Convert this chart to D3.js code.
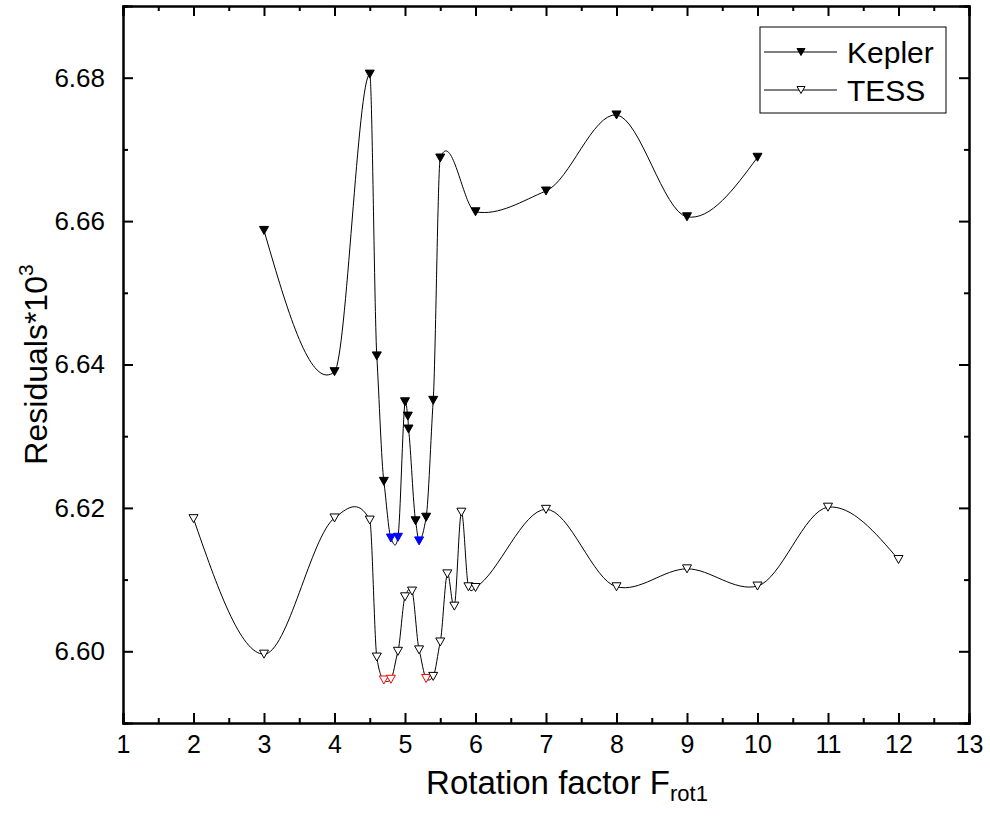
<!DOCTYPE html>
<html>
<head>
<meta charset="utf-8">
<script src="https://cdn.jsdelivr.net/npm/d3@7"></script>
<style>
  body { margin: 0; background: #fff; }
  svg { display: block; font-family: "Liberation Sans", Arial, sans-serif; }
</style>
</head>
<body>
<svg width="990" height="826"></svg>
<script>
var WIDTH = 990;
var HEIGHT = 826;

// Kepler residuals (filled down triangles), blue = best ones
var keplerX = [3, 4, 4.5, 4.6, 4.7, 4.8, 4.9, 5.0, 5.04, 5.05, 5.15, 5.2, 5.3, 5.4, 5.5, 6, 7, 8, 9, 10];
var keplerY = [6.6587, 6.6390, 6.6805, 6.6412, 6.6237, 6.6158, 6.6159, 6.6348, 6.6328, 6.6310,
               6.6182, 6.6154, 6.6187, 6.6350, 6.6688, 6.6613, 6.6642, 6.6748, 6.6606, 6.6689];
var keplerBest = [4.8, 4.9, 5.2];

// TESS residuals (open down triangles), red = best ones
var tessX = [2, 3, 4, 4.5, 4.6, 4.7, 4.8, 4.9, 5.0, 5.1, 5.2, 5.3, 5.4, 5.5, 5.6, 5.7, 5.8, 5.9, 6,
             7, 8, 9, 10, 11, 12];
var tessY = [6.6185, 6.5996, 6.6186, 6.6183, 6.5992, 6.5960, 6.5961, 6.6000, 6.6076, 6.6084,
             6.6002, 6.5962, 6.5965, 6.6013, 6.6108, 6.6063, 6.6194, 6.6090, 6.6089,
             6.6198, 6.6090, 6.6115, 6.6091, 6.6201, 6.6128];
var tessBest = [4.7, 4.8, 5.3];

var xMajor = [1, 2, 3, 4, 5, 6, 7, 8, 9, 10, 11, 12, 13];
var xMinor = [1.5, 2.5, 3.5, 4.5, 5.5, 6.5, 7.5, 8.5, 9.5, 10.5, 11.5, 12.5];
var yMajor = [6.60, 6.62, 6.64, 6.66, 6.68];
var yMinor = [6.59, 6.61, 6.63, 6.65, 6.67, 6.69];

var margin = { left: 123, right: 21, top: 6, bottom: 103 };
var plotW = WIDTH - margin.left - margin.right;
var plotH = HEIGHT - margin.top - margin.bottom;

var svg = d3.select('svg');
svg.append('rect').attr('width', WIDTH).attr('height', HEIGHT).attr('fill', '#fff');

var g = svg.append('g').attr('transform', 'translate(' + margin.left + ',' + margin.top + ')');

var xScale = d3.scaleLinear().domain([1, 13]).range([0, plotW]);
var yScale = d3.scaleLinear().domain([6.59, 6.69]).range([plotH, 0]);

// cubic hermite in x; slope at a point = damped secant of its neighbours
var SLOPE_K = 0.6;
function curveSplineX(context) {
  var xs, ys;
  return {
    areaStart: function() {},
    areaEnd: function() {},
    lineStart: function() { xs = []; ys = []; },
    point: function(x, y) { xs.push(+x); ys.push(+y); },
    lineEnd: function() {
      var n = xs.length;
      if (!n) return;
      context.moveTo(xs[0], ys[0]);
      if (n < 3) {
        for (var j = 1; j < n; j++) context.lineTo(xs[j], ys[j]);
        return;
      }
      var d = new Array(n);
      for (var i = 1; i < n - 1; i++) {
        d[i] = SLOPE_K * (ys[i + 1] - ys[i - 1]) / (xs[i + 1] - xs[i - 1]);
      }
      d[0] = (3 * (ys[1] - ys[0]) / (xs[1] - xs[0]) - d[1]) / 2;
      d[n - 1] = (3 * (ys[n - 1] - ys[n - 2]) / (xs[n - 1] - xs[n - 2]) - d[n - 2]) / 2;
      for (i = 0; i < n - 1; i++) {
        var h = xs[i + 1] - xs[i];
        context.bezierCurveTo(xs[i] + h / 3, ys[i] + d[i] * h / 3,
                              xs[i + 1] - h / 3, ys[i + 1] - d[i + 1] * h / 3,
                              xs[i + 1], ys[i + 1]);
      }
    }
  };
}

var line = d3.line()
  .x(function(d) { return xScale(d[0]); })
  .y(function(d) { return yScale(d[1]); })
  .curve(curveSplineX);

var kepler = keplerX.map(function(x, i) { return [x, keplerY[i]]; });
var tess = tessX.map(function(x, i) { return [x, tessY[i]]; });

// down triangle marker
var TRI = 'M-4.5,-4L4.5,-4L0,4Z';

g.append('path').datum(tess)
  .attr('d', line).attr('fill', 'none').attr('stroke', '#000').attr('stroke-width', 1);
g.append('path').datum(kepler)
  .attr('d', line).attr('fill', 'none').attr('stroke', '#000').attr('stroke-width', 1);

g.selectAll('.tess').data(tess).enter().append('path')
  .attr('class', 'tess')
  .attr('d', TRI)
  .attr('transform', function(d) { return 'translate(' + xScale(d[0]) + ',' + yScale(d[1]) + ')'; })
  .attr('fill', '#fff')
  .attr('stroke', function(d) { return tessBest.indexOf(d[0]) >= 0 ? '#ff0000' : '#000'; })
  .attr('stroke-width', 1);

g.selectAll('.kep').data(kepler).enter().append('path')
  .attr('class', 'kep')
  .attr('d', TRI)
  .attr('transform', function(d) { return 'translate(' + xScale(d[0]) + ',' + yScale(d[1]) + ')'; })
  .attr('fill', function(d) { return keplerBest.indexOf(d[0]) >= 0 ? '#0000ff' : '#000'; })
  .attr('stroke', function(d) { return keplerBest.indexOf(d[0]) >= 0 ? '#0000ff' : '#000'; })
  .attr('stroke-width', 1);

// axes, ticks pointing inward on all four sides
function styleAxis(sel) {
  sel.selectAll('.domain').attr('stroke-width', 2);
  sel.selectAll('.tick line').attr('stroke-width', 2);
  sel.selectAll('.tick text').attr('font-size', 26).attr('fill', '#000');
}

g.append('g').attr('transform', 'translate(0,' + plotH + ')')
  .call(d3.axisBottom(xScale).tickValues(xMajor).tickSize(-10).tickPadding(12).tickFormat(d3.format('d')))
  .call(styleAxis)
  .selectAll('.tick text').attr('font-size', 25);
g.append('g').attr('transform', 'translate(0,' + plotH + ')')
  .call(d3.axisBottom(xScale).tickValues(xMinor).tickSize(-5).tickFormat(''))
  .call(styleAxis);
g.append('g')
  .call(d3.axisTop(xScale).tickValues(xMajor).tickSize(-10).tickFormat(''))
  .call(styleAxis);
g.append('g')
  .call(d3.axisTop(xScale).tickValues(xMinor).tickSize(-5).tickFormat(''))
  .call(styleAxis);

g.append('g')
  .call(d3.axisLeft(yScale).tickValues(yMajor).tickSize(-10).tickPadding(18).tickFormat(d3.format('.2f')))
  .call(styleAxis);
g.append('g')
  .call(d3.axisLeft(yScale).tickValues(yMinor).tickSize(-5).tickFormat(''))
  .call(styleAxis);
g.append('g').attr('transform', 'translate(' + plotW + ',0)')
  .call(d3.axisRight(yScale).tickValues(yMajor).tickSize(-10).tickFormat(''))
  .call(styleAxis);
g.append('g').attr('transform', 'translate(' + plotW + ',0)')
  .call(d3.axisRight(yScale).tickValues(yMinor).tickSize(-5).tickFormat(''))
  .call(styleAxis);

// axis titles
var xt = svg.append('text')
  .attr('x', 567)
  .attr('y', 794)
  .attr('text-anchor', 'middle')
  .attr('font-size', 33);
xt.append('tspan').text('Rotation factor F');
xt.append('tspan').attr('font-size', 22).attr('dy', 7).text('rot1');

var yt = svg.append('text')
  .attr('transform', 'translate(47,' + (margin.top + plotH / 2) + ') rotate(-90)')
  .attr('text-anchor', 'middle')
  .attr('font-size', 32);
yt.append('tspan').text('Residuals*10');
yt.append('tspan').attr('font-size', 21).attr('dy', -14).text('3');

// legend
var legend = svg.append('g').attr('transform', 'translate(760,27)');
legend.append('rect').attr('width', 186).attr('height', 86)
  .attr('fill', '#fff').attr('stroke', '#000').attr('stroke-width', 1);
var items = [
  { name: 'Kepler', fill: '#000', y: 25 },
  { name: 'TESS', fill: '#fff', y: 63 }
];
items.forEach(function(it) {
  legend.append('line').attr('x1', 4).attr('x2', 77).attr('y1', it.y).attr('y2', it.y)
    .attr('stroke', '#000').attr('stroke-width', 1);
  legend.append('path').attr('d', 'M-4,-3.5L4,-3.5L0,3.5Z')
    .attr('transform', 'translate(41,' + it.y + ')')
    .attr('fill', it.fill).attr('stroke', '#000').attr('stroke-width', 1);
  legend.append('text').attr('x', 87).attr('y', it.y).attr('dy', '0.36em')
    .attr('font-size', 30).text(it.name);
});
</script>
</body>
</html>
